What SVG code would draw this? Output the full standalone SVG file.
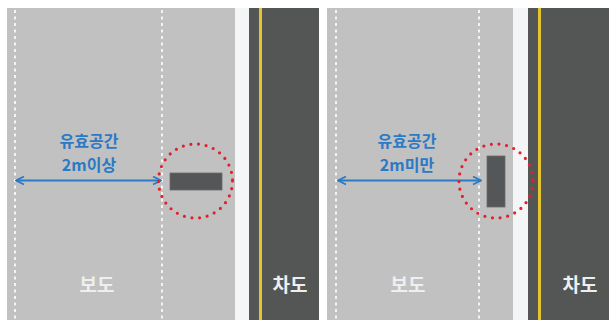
<svg xmlns="http://www.w3.org/2000/svg" width="609" height="320" viewBox="0 0 609 320">
<defs>
<style>
.walk{fill:#c1c1c1}
.curb{fill:#f4f5f7}
.road{fill:#545655}
.yellow{stroke:#e6c42b;stroke-width:3}
.dash{stroke:#f4f4f4;stroke-width:2;stroke-dasharray:3 3.5;fill:none}
.ring{fill:none;stroke:#e3202a;stroke-width:3.2;stroke-dasharray:0 7.7;stroke-linecap:round}
.obj{fill:#555657;stroke:#6a6a6a;stroke-width:0.8}
.lbl{font-family:"Noto Sans CJK KR","Noto Sans",sans-serif;font-weight:700;font-size:16px;fill:#2a7ac6;text-anchor:middle}
.area{font-family:"Noto Sans CJK KR","Noto Sans",sans-serif;font-weight:700;font-size:19px;fill:#efefef;text-anchor:middle}
.arr{stroke:#2a7ac6;stroke-width:1.8;fill:none}
</style>
<marker id="ah" viewBox="0 0 10 10" refX="9" refY="5" markerWidth="10" markerHeight="10" markerUnits="userSpaceOnUse" orient="auto-start-reverse">
<path d="M1,1 L9,5 L1,9" fill="none" stroke="#2a7ac6" stroke-width="1.8"/>
</marker>
</defs>
<rect width="609" height="320" fill="#ffffff"/>
<g id="left-panel">
<rect class="walk" x="7" y="8" width="228" height="312"/>
<rect class="curb" x="235" y="8" width="14" height="312"/>
<rect class="road" x="249" y="8" width="70" height="312"/>
<line class="yellow" x1="260.5" y1="8" x2="260.5" y2="320"/>
<line class="dash" x1="15" y1="10" x2="15" y2="320"/>
<line class="dash" x1="162" y1="10" x2="162" y2="320"/>
</g>
<g id="right-panel">
<rect class="walk" x="327" y="8" width="186" height="312"/>
<rect class="curb" x="513" y="8" width="15" height="312"/>
<rect class="road" x="528" y="8" width="81" height="312"/>
<line class="yellow" x1="539.5" y1="8" x2="539.5" y2="320"/>
<line class="dash" x1="336" y1="10" x2="336" y2="320"/>
<line class="dash" x1="479" y1="10" x2="479" y2="320"/>
</g>
<g id="connectors">
<line class="arr" x1="16" y1="180.5" x2="161" y2="180.5" marker-start="url(#ah)" marker-end="url(#ah)"/>
<line class="arr" x1="338" y1="180.5" x2="481" y2="180.5" marker-start="url(#ah)" marker-end="url(#ah)"/>
</g>
<g id="left-obstacle">
<rect class="obj" x="170" y="173" width="52" height="17"/>
<circle class="ring" cx="195.5" cy="181" r="37"/>
</g>
<g id="right-obstacle">
<rect class="obj" x="487" y="156" width="18" height="51"/>
<circle class="ring" cx="496" cy="181" r="37"/>
</g>
<g id="left-labels">
<text class="lbl" x="89" y="147">유효공간</text>
<text class="lbl" x="89" y="171">2m이상</text>
<text class="area" x="97" y="292">보도</text>
<text class="area" x="290" y="292">차도</text>
</g>
<g id="right-labels">
<text class="lbl" x="407" y="147">유효공간</text>
<text class="lbl" x="407" y="171">2m미만</text>
<text class="area" x="408" y="292">보도</text>
<text class="area" x="580" y="292">차도</text>
</g>
</svg>
